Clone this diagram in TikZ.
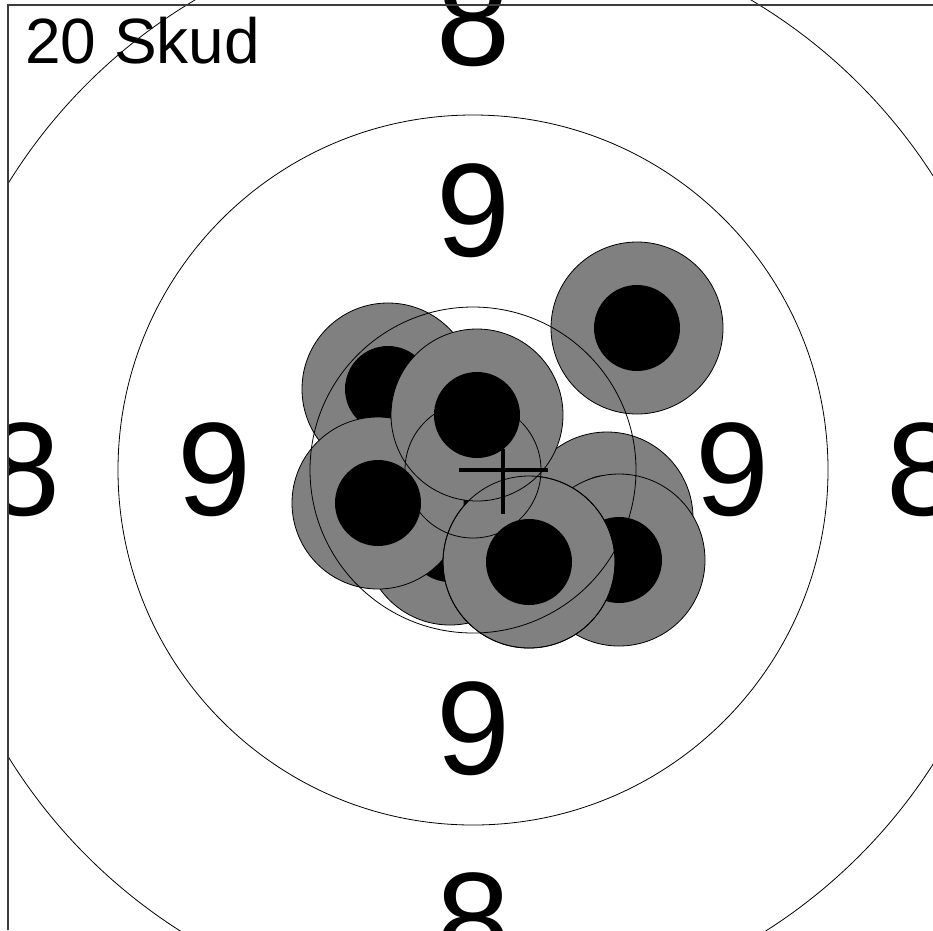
\documentclass[tikz,border=0pt]{standalone}
\usepackage{fontspec}
\setmainfont{Liberation Sans}
\definecolor{shotgray}{HTML}{808080}
\definecolor{framegray}{HTML}{3C3C3C}
\tikzset{
  ringline/.style={draw=black, line width=0.8pt},
  shotring/.style={fill=shotgray, draw=black, line width=0.8pt},
  shotcore/.style={fill=black},
  shotedge/.style={draw=black, line width=0.8pt},
  crossline/.style={draw=black, line width=3.3pt},
  framedline/.style={draw=framegray, line width=1.3pt},
  bignum/.style={inner sep=0pt, font=\fontsize{133}{140}\selectfont},
  titletext/.style={inner sep=0pt, font=\fontsize{64}{70}\selectfont}
}
\newcommand\drawshot[2]{%
  \path[shotring] (#1,#2) circle (86);
  \path[shotcore] (#1,#2) circle (43);
}
\begin{document}
\begin{tikzpicture}[x=1pt,y=-1pt]
\useasboundingbox (0,0) rectangle (933,930);
\coordinate (ctr) at (473,470);
\begin{scope}
  \clip (8,0) rectangle (933,930);
  % outer rings
  \path[ringline] (ctr) circle (546);
  \path[ringline] (ctr) circle (355);
  % shots (drawn in order)
  \drawshot{637}{328}
  \drawshot{607}{518}
  \drawshot{619}{560}
  \drawshot{450}{539}
  \drawshot{388}{389}
  \drawshot{378}{503}
  \drawshot{529}{562}
  \drawshot{477}{415}
  % inner rings on top
  \path[ringline] (ctr) circle (163);
  \path[ringline] (ctr) circle (68);
  % outline of a shot seen through
  \path[shotedge] (529,562) circle (86);
  % mean point of impact
  \coordinate (cxl) at (459,470);
  \coordinate (cxr) at (548,470);
  \coordinate (cyt) at (503,449);
  \coordinate (cyb) at (503,514);
  \path[crossline] (cxl) -- (cxr);
  \path[crossline] (cyt) -- (cyb);
  % ring values
  \node[bignum] (ninetop) at (473,211) {9};
  \node[bignum] (ninebottom) at (473,729) {9};
  \node[bignum] (nineleft) at (214,470) {9};
  \node[bignum] (nineright) at (732,470) {9};
  \node[bignum] (eighttop) at (473,20) {8};
  \node[bignum] (eightbottom) at (473,920) {8};
  \node[bignum] (eightleft) at (23,470) {8};
  \node[bignum] (eightright) at (923,470) {8};
\end{scope}
% frame
\coordinate (ftl) at (8,5);
\coordinate (ftr) at (933,5);
\coordinate (fbl) at (8,930);
\path[framedline] (ftr) -- (ftl) -- (fbl);
\node[titletext, anchor=base west] (title) at (25,63) {20 Skud};
\end{tikzpicture}
\end{document}
